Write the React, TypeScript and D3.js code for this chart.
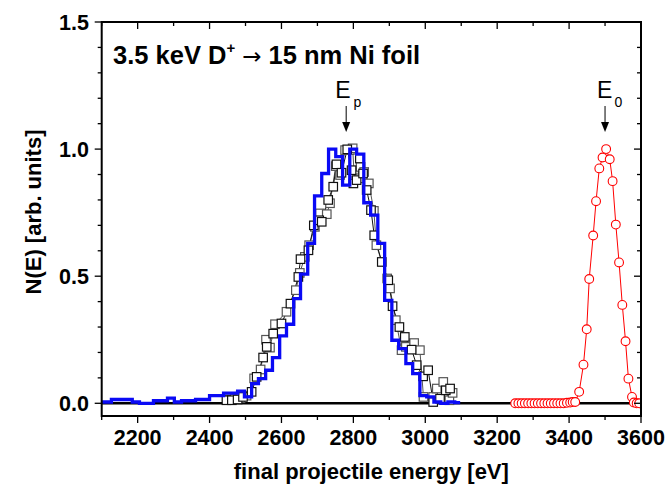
import React from "react";
import * as d3 from "d3";

// ---------- data ----------
const xTickLabels = [2200, 2400, 2600, 2800, 3000, 3200, 3400, 3600];
const yTickLabels = ["0.0", "0.5", "1.0", "1.5"];

// simulation histogram (blue), left bin edges and heights
const simEdges = [
  2088, 2107, 2127, 2146, 2166, 2185, 2205, 2224, 2244, 2263, 2283, 2302, 2322, 2341,
  2361, 2380, 2400, 2419, 2439, 2458, 2478, 2497, 2517, 2536, 2556, 2575, 2595, 2614,
  2634, 2653, 2673, 2692, 2712, 2731, 2751, 2770, 2790, 2809, 2829, 2848, 2868, 2887,
  2907, 2926, 2946, 2965, 2985, 3004, 3024, 3043, 3063, 3082, 3097,
];
const simValues = [
  0.005, 0.005, 0.015, 0.015, 0.015, 0.005, 0.0, 0.0, 0.01, 0.01, 0.02, 0.005, 0.01, 0.01,
  0.015, 0.015, 0.03, 0.03, 0.04, 0.04, 0.048, 0.025, 0.077, 0.097, 0.13, 0.18, 0.265, 0.311,
  0.412, 0.508, 0.629, 0.816, 0.904, 1.0, 0.97, 0.858, 1.0, 0.98, 0.789, 0.74, 0.629, 0.405,
  0.248, 0.215, 0.156, 0.117, 0.03, 0.025, 0.005, 0.0, 0.005, 0.003, 0.003,
];

// measured transmitted spectrum (squares), two overlapping runs
const expAEnergy = [
  2447, 2462, 2478, 2493, 2517, 2531, 2549, 2559, 2577, 2600, 2625, 2647, 2653, 2675,
  2690, 2705, 2712, 2730, 2744, 2753, 2767, 2783, 2795, 2800, 2809, 2818, 2827, 2837,
  2849, 2858, 2879, 2897, 2909, 2928, 2943, 2962, 2976, 2994, 3008, 3022, 3041, 3057,
  3069,
];
const expAValue = [
  0.012, 0.012, 0.015, 0.025, 0.045, 0.104, 0.18, 0.222, 0.274, 0.314, 0.392, 0.497, 0.567, 0.602,
  0.7, 0.72, 0.714, 0.8, 0.852, 0.94, 0.907, 0.999, 0.917, 0.865, 0.878, 0.963, 0.904, 0.839,
  0.76, 0.661, 0.556, 0.484, 0.382, 0.3, 0.261, 0.211, 0.15, 0.106, 0.13, 0.005, 0.018, 0.051,
  0.058,
];
const expBEnergy = [
  2455, 2470, 2486, 2503, 2524, 2542, 2557, 2568, 2582, 2614, 2640, 2651, 2665, 2677,
  2693, 2707, 2726, 2735, 2751, 2763, 2777, 2790, 2798, 2802, 2816, 2820, 2830, 2843,
  2857, 2864, 2894, 2902, 2918, 2934, 2946, 2969, 2985, 2995, 3022, 3032, 3050, 3067,
  3076,
];
const expBValue = [
  0.015, 0.018, 0.02, 0.03, 0.098, 0.133, 0.25, 0.219, 0.311, 0.36, 0.445, 0.513, 0.576, 0.622,
  0.694, 0.747, 0.744, 0.787, 0.933, 0.898, 0.996, 0.996, 1.003, 0.907, 0.885, 0.93, 0.91, 0.865,
  0.757, 0.622, 0.491, 0.452, 0.327, 0.209, 0.222, 0.237, 0.209, 0.025, 0.025, 0.058, 0.084, 0.012,
  0.041,
];

// primary beam (red circles)
const beamEnergy = [
  3250, 3259, 3268, 3277, 3286, 3295, 3304, 3313, 3322, 3331, 3340, 3349, 3358, 3367,
  3376, 3385, 3394, 3403, 3410, 3417, 3428, 3440, 3449, 3456, 3467, 3475, 3484, 3493,
  3503, 3513, 3521, 3530, 3539, 3548, 3557, 3565, 3575, 3580, 3588, 3595,
];
const beamValue = [
  0, 0, 0, 0, 0, 0, 0, 0, 0, 0, 0, 0, 0, 0,
  0, 0, 0.002, 0.003, 0.005, 0.005, 0.045, 0.152, 0.291, 0.489, 0.66, 0.795, 0.924, 0.967,
  1.0, 0.96, 0.874, 0.703, 0.554, 0.387, 0.244, 0.097, 0.025, 0.003, 0.0, 0.0,
];

const titleMain = "3.5 keV D";
const titleSup = "+";
const titleArrow = "\u2192";
const titleRest = "15 nm Ni foil";
const markerEp = 2780;
const markerE0 = 3500;

// ---------- layout ----------
const W = 669;
const H = 488;
const left = 101.7;
const right = 641;
const top = 22;
const bottom = 416;
const font = "'Liberation Sans', Arial, Helvetica, sans-serif";

export default function App() {
  const x = d3.scaleLinear().domain([2100, 3600]).range([left, right]);
  const y = d3.scaleLinear().domain([-0.05, 1.5]).range([bottom, top]);

  const xMinor = d3.range(2100, 3601, 100);
  const yMinor = d3.range(0, 1.501, 0.1);
  const xMajor = xTickLabels;
  const yMajor = yTickLabels.map(Number);

  const stepLine = d3
    .line<number>()
    .x((_, i) => x(simEdges[i]))
    .y((d) => y(d))
    .curve(d3.curveStepAfter)(simValues) as string;

  const lineA = d3.line<number>().x((d) => x(d)).y((_, i) => y(expAValue[i]))(expAEnergy) as string;
  const lineB = d3.line<number>().x((d) => x(d)).y((_, i) => y(expBValue[i]))(expBEnergy) as string;
  const beamLine = d3.line<number>().x((d) => x(d)).y((_, i) => y(beamValue[i]))(beamEnergy) as string;

  const sq = 8.5;

  const arrow = (xe: number, sub: string, labelDx: number, subDx: number) => {
    const ax = x(xe);
    return (
      <g>
        <text x={ax + labelDx} y={98} fontFamily={font} fontSize={23} fill="#000">
          E
          <tspan fontSize={14} dx={subDx} dy={9}>
            {sub}
          </tspan>
        </text>
        <line x1={ax} x2={ax} y1={106} y2={123} stroke="#000" strokeWidth={1} />
        <path d={`M${ax - 4},${122} L${ax + 4},${122} L${ax},${132} Z`} fill="#000" />
      </g>
    );
  };

  return (
    <svg
      width={W}
      height={H}
      style={{ position: "absolute", left: 0, top: 0, background: "#fff" }}
      xmlns="http://www.w3.org/2000/svg"
    >
      <defs>
        <clipPath id="plotclip">
          <rect x={left} y={top} width={right - left} height={bottom - top} />
        </clipPath>
      </defs>
      <rect x={0} y={0} width={W} height={H} fill="#fff" />

      {/* zero line */}
      <line x1={left} x2={right} y1={y(0)} y2={y(0)} stroke="#000" strokeWidth={2.5} />

      <g clipPath="url(#plotclip)">
        {/* experimental squares */}
        <path d={lineB} fill="none" stroke="#555" strokeWidth={1} />
        <path d={lineA} fill="none" stroke="#111" strokeWidth={1} />
        {expBEnergy.map((e, i) => (
          <rect
            key={"b" + i}
            x={x(e) - sq / 2}
            y={y(expBValue[i]) - sq / 2}
            width={sq}
            height={sq}
            fill="#fff"
            stroke="#555"
            strokeWidth={1.2}
          />
        ))}
        {expAEnergy.map((e, i) => (
          <rect
            key={"a" + i}
            x={x(e) - sq / 2}
            y={y(expAValue[i]) - sq / 2}
            width={sq}
            height={sq}
            fill="#fff"
            stroke="#111"
            strokeWidth={1.2}
          />
        ))}

        {/* simulation */}
        <path d={stepLine} fill="none" stroke="#0a0af5" strokeWidth={3.3} strokeLinejoin="miter" />

        {/* primary beam */}
        <path d={beamLine} fill="none" stroke="#ff0000" strokeWidth={1} />
        {beamEnergy.map((e, i) => (
          <circle
            key={"c" + i}
            cx={x(e)}
            cy={y(beamValue[i])}
            r={4.4}
            fill="#fff"
            stroke="#ff0000"
            strokeWidth={1.1}
          />
        ))}
      </g>

      {/* frame */}
      <rect x={left} y={top} width={right - left} height={bottom - top} fill="none" stroke="#000" strokeWidth={2} />

      {/* bottom ticks (out) + top ticks (in) */}
      {xMinor.map((v) => {
        const major = xMajor.includes(v);
        return (
          <g key={"xt" + v}>
            <line x1={x(v)} x2={x(v)} y1={bottom} y2={bottom + (major ? 7 : 4)} stroke="#000" strokeWidth={1.3} />
            <line x1={x(v)} x2={x(v)} y1={top} y2={top + (major ? 7 : 4)} stroke="#000" strokeWidth={1.3} />
          </g>
        );
      })}
      {/* left ticks (out) + right ticks (in) */}
      {yMinor.map((v) => {
        const major = yMajor.some((m) => Math.abs(m - v) < 1e-6);
        return (
          <g key={"yt" + v.toFixed(1)}>
            <line x1={left} x2={left - (major ? 7 : 4)} y1={y(v)} y2={y(v)} stroke="#000" strokeWidth={1.3} />
            <line x1={right} x2={right - (major ? 7 : 4)} y1={y(v)} y2={y(v)} stroke="#000" strokeWidth={1.3} />
          </g>
        );
      })}

      {/* tick labels */}
      {xTickLabels.map((v) => (
        <text
          key={"xl" + v}
          x={x(v)}
          y={445}
          textAnchor="middle"
          fontFamily={font}
          fontWeight="bold"
          fontSize={21.5}
        >
          {v}
        </text>
      ))}
      {yTickLabels.map((v) => (
        <text
          key={"yl" + v}
          x={89}
          y={y(Number(v)) + 7.5}
          textAnchor="end"
          fontFamily={font}
          fontWeight="bold"
          fontSize={21.5}
        >
          {v}
        </text>
      ))}

      {/* axis titles */}
      <text x={(left + right) / 2} y={479} textAnchor="middle" fontFamily={font} fontWeight="bold" fontSize={22}>
        final projectile energy [eV]
      </text>
      <text
        transform={`translate(41,212) rotate(-90)`}
        textAnchor="middle"
        fontFamily={font}
        fontWeight="bold"
        fontSize={22}
      >
        N(E) [arb. units]
      </text>

      {/* title */}
      <text x={113} y={64} fontFamily={font} fontWeight="bold" fontSize={25.5}>
        {titleMain}
        <tspan fontSize={15} dy={-11}>
          {titleSup}
        </tspan>
        <tspan dy={11} dx={7} fontFamily="'DejaVu Sans', sans-serif" fontWeight="normal" fontSize={23}>
          {titleArrow}
        </tspan>
        <tspan dx={7}>{titleRest}</tspan>
      </text>

      {/* markers */}
      {arrow(markerEp, "p", -11, 3)}
      {arrow(markerE0, "0", -8, 2)}
    </svg>
  );
}
